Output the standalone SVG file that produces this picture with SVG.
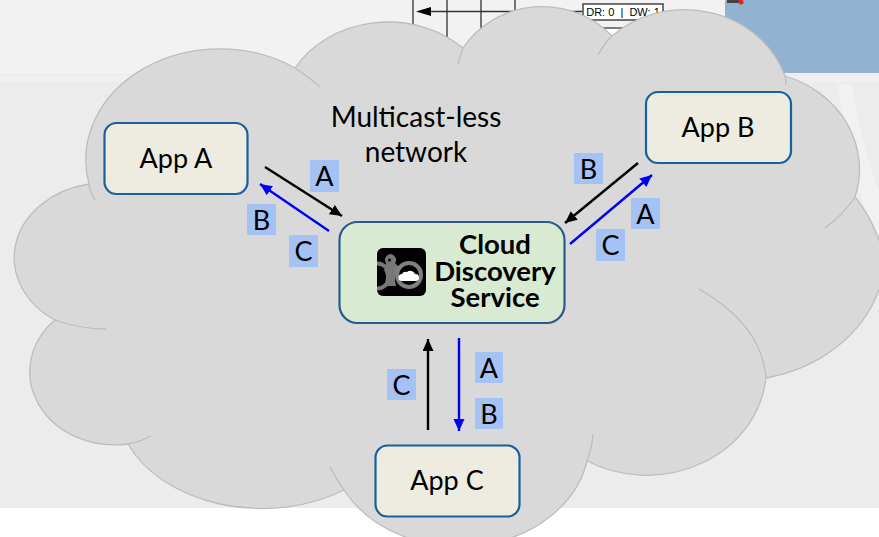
<svg xmlns="http://www.w3.org/2000/svg" width="879" height="537" viewBox="0 0 879 537">
<style>
text{font-family:"Lato","Open Sans","Liberation Sans",sans-serif;fill:#000;text-anchor:middle}
.app{fill:#eeece1;stroke:#1a5f9e;stroke-width:2.2}
.t{font-size:27px}
.n{font-size:28px}
.b{font-size:27.500px;font-weight:700}
.l{font-size:27px}
.tag{fill:#a4c2f4}
.k{stroke:#000;stroke-width:2.4;fill:none;marker-end:url(#ak)}
.u{stroke:#0000f0;stroke-width:2.4;fill:none;marker-end:url(#au)}
.cl{fill:#d9d9d9;stroke:#bdbdbd;stroke-width:1.3}
.st{fill:none;stroke:#bdbdbd;stroke-width:1.3}
.g{stroke:#555;stroke-width:1.6;fill:none}
</style>
<defs>
<marker id="ak" markerWidth="14" markerHeight="12" refX="12" refY="5.500" orient="auto" markerUnits="userSpaceOnUse"><path d="M0 0L12 5.500L0 11Z" fill="#000"/></marker>
<marker id="au" markerWidth="14" markerHeight="12" refX="12" refY="5.500" orient="auto" markerUnits="userSpaceOnUse"><path d="M0 0L12 5.500L0 11Z" fill="#0000f0"/></marker>
</defs>
<rect width="879" height="537" fill="#fff"/>
<rect width="879" height="508" fill="#ececec"/>
<rect width="879" height="74" fill="#f2f2f2"/>
<rect y="74" width="879" height="10" fill="#e9e9e9"/>
<rect y="75" width="879" height="8" fill="#efefef"/>
<path d="M838 84L852 84Q862 150 879 190L879 250Q848 170 838 84Z" fill="#f1f1f1"/>
<g id="background-grid">
<path class="g" d="M413 0V30M447 0V40M481 0V40M515 0V20"/>
<path d="M431 11.500H582" stroke="#333" stroke-width="1.500"/>
<path d="M416 11.500L431 7V16Z" fill="#000"/>
<rect x="583" y="4" width="80" height="16" fill="#fff" stroke="#444" stroke-width="1.500"/>
<text x="623" y="16" style="font-family:'Liberation Sans',sans-serif;font-size:11px;white-space:pre" fill="#333">DR: 0  |  DW: 1</text>
<rect x="590" y="28" width="60" height="14" fill="#fff" stroke="#555" stroke-width="1.500"/>
<rect x="725" y="0" width="154" height="73" fill="#91b3d0"/>
<rect x="727" y="0" width="12" height="3" fill="#444"/>
<circle cx="741" cy="2" r="2.500" fill="#e8212b"/>
</g>
<g id="cloud">
<path class="cl" d="M89 184A134 111 0 0 1 295 68A108 93 0 0 1 463 48A95 92 0 0 1 612 36A106 97 0 0 1 785 76A108 98 0 0 1 855 197Q870 215 879 240L890 240L890 290L879 290A150 130 0 0 1 766 378A120 108 0 0 1 587 461A130 105 0 0 1 344 490A145 105 0 0 1 128 444A85 73 0 0 1 55 320A92 75 0 0 1 89 184Z"/>
<path class="st" d="M295 68Q309 77 320 87M463 48Q460 56 458 64M612 36Q604 44 598 55M785 76Q786 80 786 85M855 197Q842 216 825 228M766 378Q762 325 699 289M587 461Q592 448 593 434M344 490Q336 479 330 467M128 444Q140 442 151 436M55 320Q80 329 106 329M89 184Q90 192 95 200"/>
</g>
<g id="connectors">
<path class="k" d="M265 167L342 216"/>
<path class="u" d="M329 231L260 184"/>
<path class="k" d="M638 163L565 223"/>
<path class="u" d="M570 244L652 175"/>
<path class="k" d="M428 430V339"/>
<path class="u" d="M459 338V431"/>
<rect class="tag" x="310" y="160" width="29" height="32"/><text class="l" x="324.500" y="186">A</text>
<rect class="tag" x="247" y="204" width="29" height="31"/><text class="l" x="261.500" y="230">B</text>
<rect class="tag" x="289" y="235" width="29" height="32"/><text class="l" x="303.500" y="261">C</text>
<rect class="tag" x="574" y="153" width="29" height="31"/><text class="l" x="588.500" y="179">B</text>
<rect class="tag" x="631" y="198" width="29" height="31"/><text class="l" x="645.500" y="224">A</text>
<rect class="tag" x="596" y="229" width="29" height="32"/><text class="l" x="610.500" y="255">C</text>
<rect class="tag" x="387" y="369" width="29" height="31"/><text class="l" x="401.500" y="395">C</text>
<rect class="tag" x="475" y="352" width="28" height="31"/><text class="l" x="489" y="378">A</text>
<rect class="tag" x="475" y="398" width="28" height="31"/><text class="l" x="489" y="424">B</text>
</g>
<g id="network-label">
<text class="n" x="416" y="127">Multicast-less</text>
<text class="n" x="416" y="162">network</text>
</g>
<g id="app-a"><rect class="app" x="104.500" y="123" width="143" height="71" rx="12"/><text class="t" x="176" y="168">App A</text></g>
<g id="app-b"><rect class="app" x="646" y="92" width="145" height="71" rx="12"/><text class="t" x="718" y="137">App B</text></g>
<g id="app-c"><rect class="app" x="375.500" y="445.500" width="144" height="71" rx="12"/><text class="t" x="447" y="490">App C</text></g>
<g id="cloud-discovery-service">
<rect x="339.500" y="222" width="225" height="101" rx="18" fill="#d9ead3" stroke="#2a5a8a" stroke-width="2.200"/>
<rect x="377" y="248" width="49" height="48" rx="6" fill="#000"/>
<path d="M377 263.500A12.500 12.500 0 0 1 377 288.500" fill="none" stroke="#777" stroke-width="4"/>
<path d="M386 267L386 263A5.500 5.500 0 1 1 395 263L399 267Q393 275 396 286L384 286Q388 276 384 270Z" fill="#777"/>
<circle cx="389.500" cy="260" r="1.600" fill="#000"/>
<circle cx="409" cy="275" r="12" fill="#000" stroke="#808080" stroke-width="4"/>
<path d="M402 281A3.500 3.500 0 0 1 402 274A4 4 0 0 1 407 272A5 5 0 0 1 415 274A3.500 3.500 0 0 1 416 281Z" fill="#fff"/>
<text class="b"><tspan x="495" y="254">Cloud</tspan><tspan x="495" y="281">Discovery</tspan><tspan x="495" y="307">Service</tspan></text>
</g>
</svg>
